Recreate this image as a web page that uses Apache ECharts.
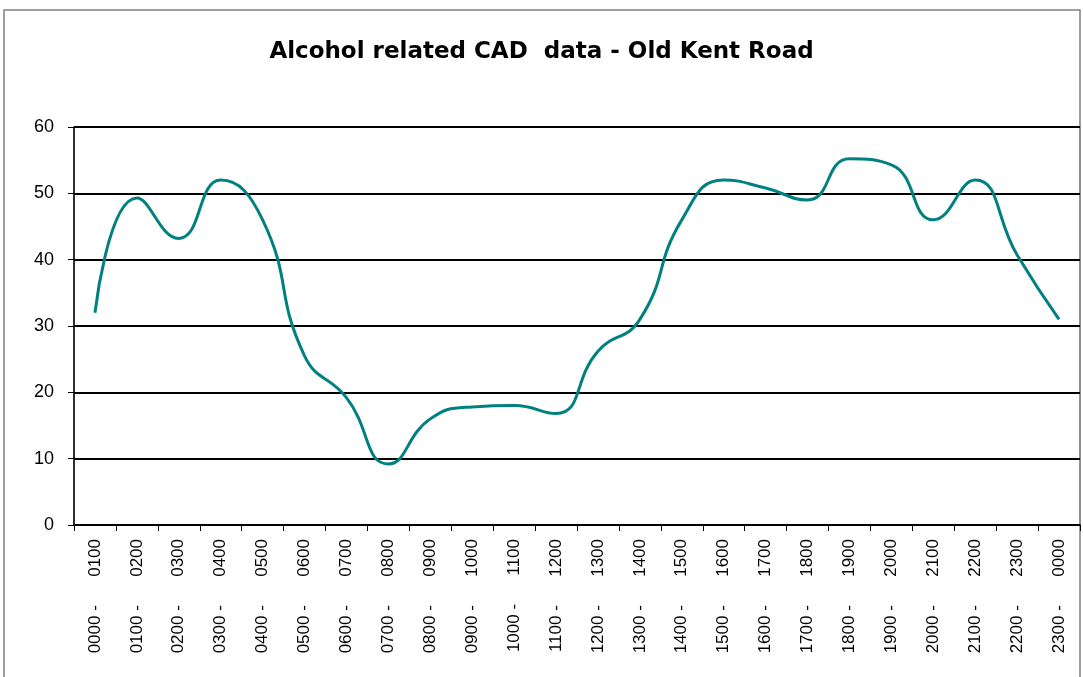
<!DOCTYPE html>
<html>
<head>
<meta charset="utf-8">
<script src="https://cdn.jsdelivr.net/npm/echarts@6/dist/echarts.min.js"></script>
<style>
  html, body { margin: 0; padding: 0; background: #fff; }
  #chart { width: 1083px; height: 677px; }
</style>
</head>
<body>
<div id="chart"></div>
<script>
var hours = ['0000', '0100', '0200', '0300', '0400', '0500', '0600', '0700', '0800', '0900', '1000', '1100',
    '1200', '1300', '1400', '1500', '1600', '1700', '1800', '1900', '2000', '2100', '2200', '2300', '0000'];
var categories = [];
for (var i = 0; i < 24; i++) {
    categories.push(hours[i] + ' -      ' + hours[i + 1]);
}
var counts = [32, 49.3, 43.2, 52, 46, 25.5, 19.2, 9.2, 16, 17.8, 18, 16.8,
    26.2, 31, 46, 52, 50.8, 49, 55.2, 54.3, 46, 52, 40.7, 31];

var myChart = echarts.init(document.getElementById('chart'));
var option = {
    animation: false,
    title: {
        text: 'Alcohol related CAD  data - Old Kent Road',
        left: 'center',
        top: 36,
        textStyle: {
            fontFamily: 'DejaVu Sans',
            fontSize: 23,
            fontWeight: 'bold',
            color: '#000'
        }
    },
    graphic: [{
        type: 'rect',
        shape: { x: 4, y: 10, width: 1076, height: 700 },
        style: { fill: 'none', stroke: '#808080', lineWidth: 1.5 },
        z: -1
    }],
    grid: {
        left: 74,
        right: 3,
        top: 127,
        bottom: 152,
        show: true,
        borderColor: '#808080',
        borderWidth: 1
    },
    xAxis: {
        type: 'category',
        data: categories,
        boundaryGap: true,
        axisLine: { lineStyle: { color: '#000', width: 1.5 } },
        axisTick: { show: true, alignWithLabel: false, length: 6, lineStyle: { color: '#000' } },
        axisLabel: {
            interval: 0,
            rotate: 90,
            margin: 14,
            fontFamily: 'Liberation Sans',
            fontSize: 17,
            color: '#000'
        },
        splitLine: { show: false }
    },
    yAxis: {
        type: 'value',
        min: 0,
        max: 60,
        interval: 10,
        axisLine: { show: true, lineStyle: { color: '#000', width: 1.5 } },
        axisTick: { show: true, length: 6, lineStyle: { color: '#000' } },
        axisLabel: {
            margin: 20,
            fontFamily: 'Liberation Sans',
            fontSize: 18,
            color: '#000'
        },
        splitLine: { lineStyle: { color: '#000', width: 1.8 } }
    },
    series: [{
        name: 'CAD',
        type: 'line',
        data: counts,
        smooth: 0.5,
        symbol: 'none',
        lineStyle: { color: '#008080', width: 3 }
    }]
};
myChart.setOption(option);
</script>
</body>
</html>
